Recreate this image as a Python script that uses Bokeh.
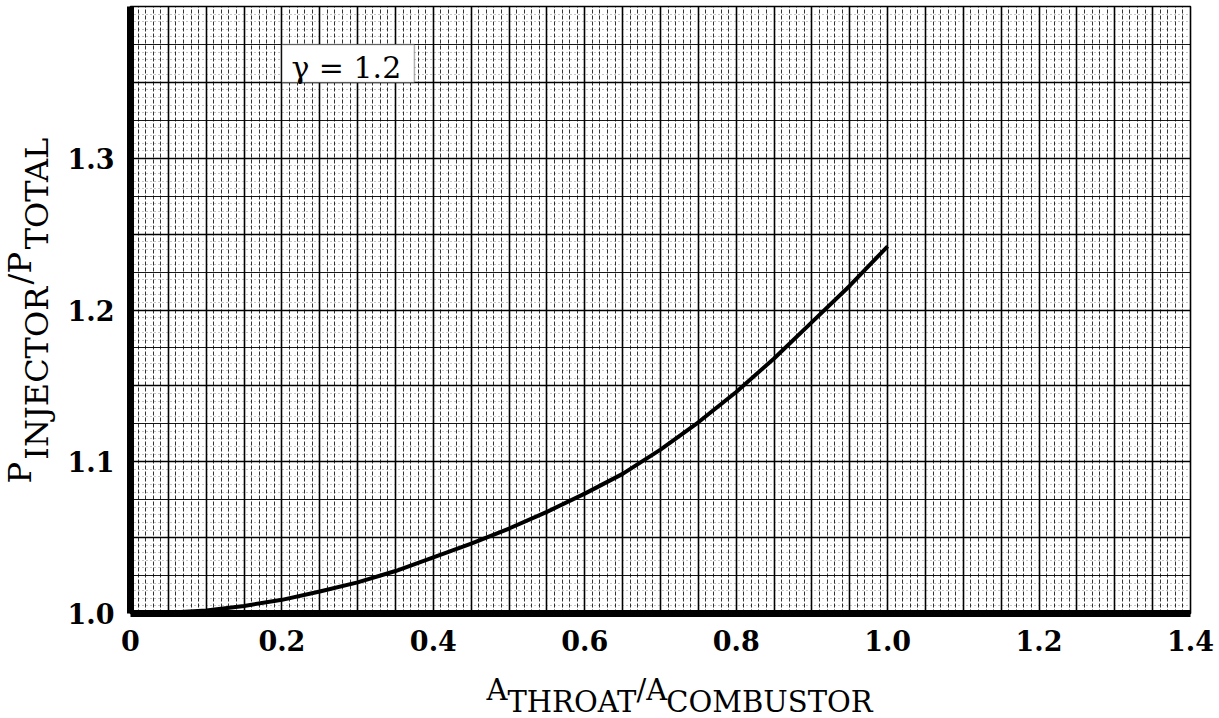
import numpy as np
from bokeh.plotting import figure
from bokeh.layouts import row, column
from bokeh.models import FixedTicker, Grid, Label, Range1d, BoxAnnotation
from bokeh.core.properties import value
from bokeh.embed import file_html
from bokeh.resources import INLINE

# ---- data ----
area_ratio = [0.0, 0.05, 0.1, 0.15, 0.2, 0.25, 0.3, 0.35, 0.4, 0.45, 0.5,
              0.55, 0.6, 0.65, 0.7, 0.75, 0.8, 0.85, 0.9, 0.95, 1.0]
pressure_ratio = [1.000, 1.0005, 1.002, 1.005, 1.009, 1.0145, 1.0205, 1.028, 1.037, 1.046, 1.056,
                  1.067, 1.079, 1.092, 1.108, 1.126, 1.146, 1.168, 1.192, 1.216, 1.242]
x_ticks = [0, 0.2, 0.4, 0.6, 0.8, 1.0, 1.2, 1.4]
x_tick_labels = ["0", "0.2", "0.4", "0.6", "0.8", "1.0", "1.2", "1.4"]
y_ticks = [1.0, 1.1, 1.2, 1.3]
y_tick_labels = ["1.0", "1.1", "1.2", "1.3"]
gamma_text = "\u03b3 = 1.2"
x_title_parts = ["A", "THROAT", "/A", "COMBUSTOR"]
y_title_parts = ["P", "INJECTOR", "/P", "TOTAL"]

FONT = "DejaVu Serif"

W, H = 1219, 718
FRAME_LEFT, FRAME_TOP, FRAME_W, FRAME_H = 130, 6, 1060, 607
YT_W = 60                       # width of the y-title strip
MAIN_BOTTOM = 43                # border under the frame (x tick labels)
MAIN_H = FRAME_TOP + FRAME_H + MAIN_BOTTOM
XT_H = H - MAIN_H               # height of the x-title strip

# ---------------- main chart ----------------
p = figure(frame_width=FRAME_W, frame_height=FRAME_H,
           x_range=Range1d(0, 1.4), y_range=Range1d(1.0, 1.4),
           min_border_left=FRAME_LEFT - YT_W, min_border_right=W - FRAME_LEFT - FRAME_W,
           min_border_top=FRAME_TOP, min_border_bottom=MAIN_BOTTOM,
           output_backend="svg", toolbar_location=None)
p.title.visible = False
p.background_fill_color = "white"
p.border_fill_color = "white"
p.outline_line_color = "black"
p.outline_line_width = 1.6

# graph-paper grid
p.xgrid.ticker = FixedTicker(ticks=list(np.round(np.arange(0, 1.4001, 0.05), 3)),
                             minor_ticks=list(np.round(np.arange(0, 1.4001, 0.01), 3)))
p.xgrid.grid_line_color = "black"
p.xgrid.grid_line_width = 1.6
p.xgrid.minor_grid_line_color = "black"
p.xgrid.minor_grid_line_width = 1
p.xgrid.minor_grid_line_dash = "4 2"
p.xgrid.minor_grid_line_alpha = 0.8

p.ygrid.ticker = FixedTicker(ticks=list(np.round(np.arange(1.0, 1.4001, 0.05), 3)),
                             minor_ticks=list(np.round(np.arange(1.0, 1.4001, 0.025), 4)))
p.ygrid.grid_line_color = "black"
p.ygrid.grid_line_width = 1.6
p.ygrid.minor_grid_line_color = "black"
p.ygrid.minor_grid_line_width = 1.1
p.ygrid.minor_grid_line_alpha = 0.9

fine = Grid(dimension=1, ticker=FixedTicker(ticks=list(np.round(np.arange(1.0, 1.4001, 0.005), 4))),
            grid_line_color="black", grid_line_width=1, grid_line_dash="1 3", grid_line_alpha=0.45)
p.center = [fine] + list(p.center)

# curve
p.line(area_ratio, pressure_ratio, line_color="black", line_width=4)

# axes
for ax, ticks, labels in ((p.xaxis[0], x_ticks, x_tick_labels), (p.yaxis[0], y_ticks, y_tick_labels)):
    ax.ticker = FixedTicker(ticks=ticks)
    ax.major_label_overrides = {t: l for t, l in zip(ticks, labels)}
    ax.axis_line_width = 7
    ax.axis_line_color = "black"
    ax.major_tick_line_color = None
    ax.minor_tick_line_color = None
    ax.major_label_text_font = FONT
    ax.major_label_text_font_style = "bold"
    ax.major_label_text_font_size = "27px"
    ax.major_label_text_color = "black"
    ax.major_label_standoff = 10

# gamma box
p.add_layout(BoxAnnotation(left=0.2, right=0.375, bottom=1.35, top=1.375,
                           fill_color="white", fill_alpha=1.0,
                           line_color="black", line_width=1.5))
p.add_layout(Label(x=0.2125, y=1.3595, text=gamma_text, text_font=FONT,
                   text_baseline="alphabetic",
                   text_font_size="30px", text_color="black"))


def blank(**kw):
    f = figure(x_axis_location=None, y_axis_location=None,
               output_backend="svg", toolbar_location=None, **kw)
    f.title.visible = False
    f.outline_line_color = None
    f.grid.visible = False
    f.background_fill_color = "white"
    f.border_fill_color = "white"
    return f


# ---------------- y-title strip (rotated text, reads bottom to top) ----------------
# its frame lines up with the main frame; data y = -(canvas y)
yt = blank(frame_width=YT_W, frame_height=FRAME_H, min_border_left=0, min_border_right=0,
           min_border_top=FRAME_TOP, min_border_bottom=MAIN_BOTTOM,
           x_range=Range1d(0, YT_W), y_range=Range1d(-(FRAME_TOP + FRAME_H), -FRAME_TOP))
Y_SIZE = 32
y_widths = [0.733, 5.49, 1.07, 3.60]          # approx. em widths of the parts
y_cols = [19, 36, 19, 36]                     # canvas x of each part's centre (main / subscript)
centres, pos = [], 484.0
for w in y_widths:
    centres.append(pos - w * Y_SIZE / 2)
    pos -= w * Y_SIZE
yt.text(x=y_cols, y=[-c for c in centres], text=y_title_parts, angle=np.pi / 2,
        text_font=value(FONT), text_font_size=value(f"{Y_SIZE}px"), text_color="black",
        text_align="center", text_baseline="middle")

# ---------------- x-title strip ----------------
xt = blank(width=W, height=XT_H, min_border=0,
           x_range=Range1d(0, W), y_range=Range1d(0, XT_H))
X_SIZE = 29
x_widths = [0.722, 4.45, 1.03, 7.19]          # approx. em widths of the parts
joins, pos = [], 486.0
for w in x_widths:
    joins.append(pos)
    pos += w * X_SIZE
x_base = [689, 701, 689, 701]                 # canvas baseline y (main / subscript)
xt.text(x=joins, y=[H - v for v in x_base], text=x_title_parts,
        text_align="left", text_font=value(FONT), text_font_size=value(f"{X_SIZE}px"),
        text_color="black", text_baseline="alphabetic")

layout = column(row(yt, p, spacing=0), xt, spacing=0)
open("out.html", "w").write(file_html(layout, INLINE))
